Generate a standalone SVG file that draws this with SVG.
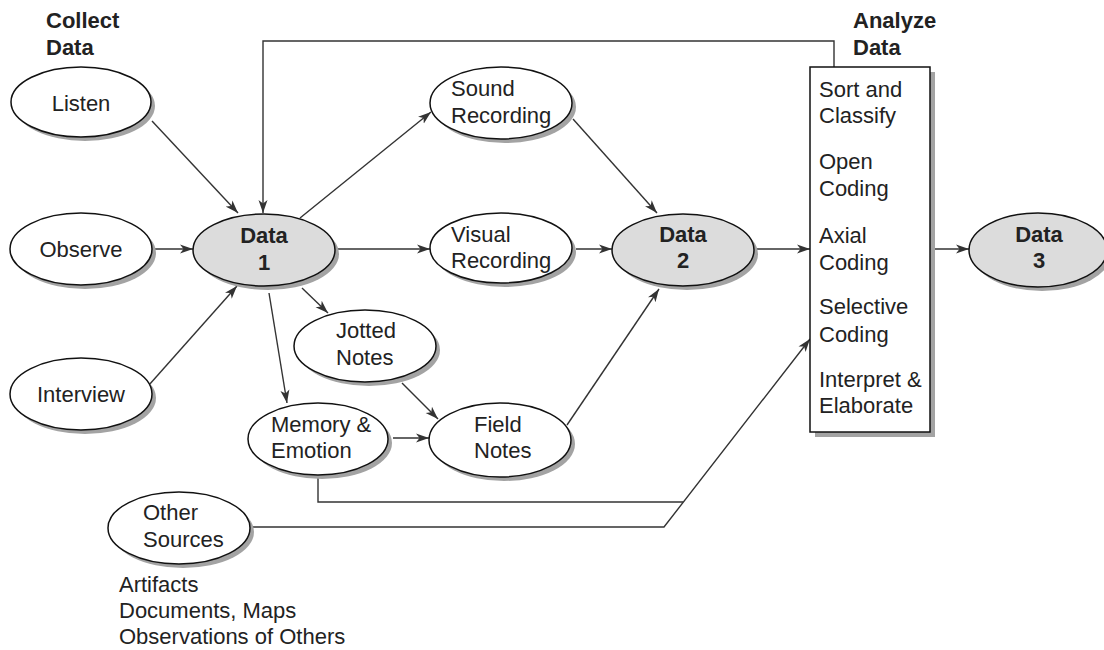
<svg xmlns="http://www.w3.org/2000/svg" width="1104" height="650" viewBox="0 0 1104 650">
<style>
text{font-family:"Liberation Sans",Arial,sans-serif;font-size:22px;fill:#222}
.b{font-weight:bold}
.sh{fill:#a3a3a3;stroke:none}
.n{fill:#fff;stroke:#111;stroke-width:1.5}
.d{fill:#dcdcdc;stroke:#111;stroke-width:1.5}
.c{fill:none;stroke:#333;stroke-width:1.4}
</style>
<defs>
<marker id="ah" markerUnits="userSpaceOnUse" markerWidth="14" markerHeight="10" refX="13" refY="5" orient="auto">
<path d="M0,0.5 L13,5 L0,9.5 L3.5,5 Z" fill="#333"/>
</marker>
</defs>
<rect width="1104" height="650" fill="#fff"/>

<g id="titles">
<text class="b" x="46" y="28">Collect</text>
<text class="b" x="46" y="55">Data</text>
<text class="b" x="853" y="28">Analyze</text>
<text class="b" x="853" y="55">Data</text>
</g>

<g id="connectors">
<polyline class="c" points="834,67 834,41 263,41 263,213" marker-end="url(#ah)"/>
<line class="c" x1="152" y1="121" x2="238" y2="213" marker-end="url(#ah)"/>
<line class="c" x1="155" y1="249" x2="193" y2="249" marker-end="url(#ah)"/>
<line class="c" x1="149" y1="385" x2="237" y2="286" marker-end="url(#ah)"/>
<line class="c" x1="300" y1="218" x2="431" y2="112" marker-end="url(#ah)"/>
<line class="c" x1="336" y1="249" x2="430" y2="249" marker-end="url(#ah)"/>
<line class="c" x1="302" y1="288" x2="328" y2="313" marker-end="url(#ah)"/>
<line class="c" x1="269" y1="293" x2="287" y2="403" marker-end="url(#ah)"/>
<line class="c" x1="402" y1="383" x2="438" y2="419" marker-end="url(#ah)"/>
<line class="c" x1="393" y1="438" x2="429" y2="438" marker-end="url(#ah)"/>
<line class="c" x1="573" y1="119" x2="657" y2="213" marker-end="url(#ah)"/>
<line class="c" x1="576" y1="249" x2="612" y2="249" marker-end="url(#ah)"/>
<line class="c" x1="567" y1="425" x2="659" y2="289" marker-end="url(#ah)"/>
<line class="c" x1="757" y1="249" x2="810" y2="249" marker-end="url(#ah)"/>
<line class="c" x1="935" y1="249" x2="969" y2="249" marker-end="url(#ah)"/>
<polyline class="c" points="318,477 318,502 683,502"/>
<polyline class="c" points="250,527 664,527 810,339" marker-end="url(#ah)"/>
</g>

<g id="listen">
<ellipse class="sh" cx="85" cy="106" rx="70" ry="35"/>
<ellipse class="n" cx="81" cy="102" rx="70" ry="35"/>
<text x="81" y="111" text-anchor="middle">Listen</text>
</g>
<g id="observe">
<ellipse class="sh" cx="85" cy="253" rx="71" ry="36"/>
<ellipse class="n" cx="81" cy="249" rx="71" ry="36"/>
<text x="81" y="257" text-anchor="middle">Observe</text>
</g>
<g id="interview">
<ellipse class="sh" cx="85" cy="398" rx="71" ry="36"/>
<ellipse class="n" cx="81" cy="394" rx="71" ry="36"/>
<text x="81" y="402" text-anchor="middle">Interview</text>
</g>
<g id="data1">
<ellipse class="sh" cx="268" cy="254" rx="71" ry="36"/>
<ellipse class="d" cx="264" cy="250" rx="71" ry="36"/>
<text class="b" x="264" y="243" text-anchor="middle">Data</text>
<text class="b" x="264" y="270" text-anchor="middle">1</text>
</g>
<g id="sound">
<ellipse class="sh" cx="505" cy="107" rx="71" ry="36"/>
<ellipse class="n" cx="501" cy="103" rx="71" ry="36"/>
<text x="451" y="96">Sound</text>
<text x="451" y="123">Recording</text>
</g>
<g id="visual">
<ellipse class="sh" cx="505" cy="252" rx="71" ry="35"/>
<ellipse class="n" cx="501" cy="248" rx="71" ry="35"/>
<text x="451" y="242">Visual</text>
<text x="451" y="268">Recording</text>
</g>
<g id="jotted">
<ellipse class="sh" cx="369" cy="350" rx="71" ry="36"/>
<ellipse class="n" cx="365" cy="346" rx="71" ry="36"/>
<text x="336" y="338">Jotted</text>
<text x="336" y="365">Notes</text>
</g>
<g id="memory">
<ellipse class="sh" cx="322" cy="443" rx="70" ry="36"/>
<ellipse class="n" cx="318" cy="439" rx="70" ry="36"/>
<text x="271" y="432">Memory &amp;</text>
<text x="271" y="458">Emotion</text>
</g>
<g id="field">
<ellipse class="sh" cx="504" cy="444" rx="71" ry="37"/>
<ellipse class="n" cx="500" cy="440" rx="71" ry="37"/>
<text x="474" y="432">Field</text>
<text x="474" y="458">Notes</text>
</g>
<g id="data2">
<ellipse class="sh" cx="687" cy="254" rx="71" ry="36"/>
<ellipse class="d" cx="683" cy="250" rx="71" ry="36"/>
<text class="b" x="683" y="242" text-anchor="middle">Data</text>
<text class="b" x="683" y="268" text-anchor="middle">2</text>
</g>
<g id="analyze">
<rect class="sh" x="815" y="72" width="120" height="365"/>
<rect class="n" x="810" y="67" width="120" height="365"/>
<text x="819" y="97">Sort and</text>
<text x="819" y="123">Classify</text>
<text x="819" y="169">Open</text>
<text x="819" y="196">Coding</text>
<text x="819" y="243">Axial</text>
<text x="819" y="270">Coding</text>
<text x="819" y="314">Selective</text>
<text x="819" y="342">Coding</text>
<text x="819" y="387">Interpret &amp;</text>
<text x="819" y="413">Elaborate</text>
</g>
<g id="data3">
<ellipse class="sh" cx="1042" cy="254" rx="69" ry="37"/>
<ellipse class="d" cx="1038" cy="250" rx="69" ry="37"/>
<text class="b" x="1039" y="242" text-anchor="middle">Data</text>
<text class="b" x="1039" y="268" text-anchor="middle">3</text>
</g>
<g id="other">
<ellipse class="sh" cx="183" cy="532" rx="71" ry="36"/>
<ellipse class="n" cx="179" cy="528" rx="71" ry="36"/>
<text x="143" y="520">Other</text>
<text x="143" y="547">Sources</text>
</g>
<g id="other-list">
<text x="119" y="592">Artifacts</text>
<text x="119" y="618">Documents, Maps</text>
<text x="119" y="644">Observations of Others</text>
</g>
</svg>
